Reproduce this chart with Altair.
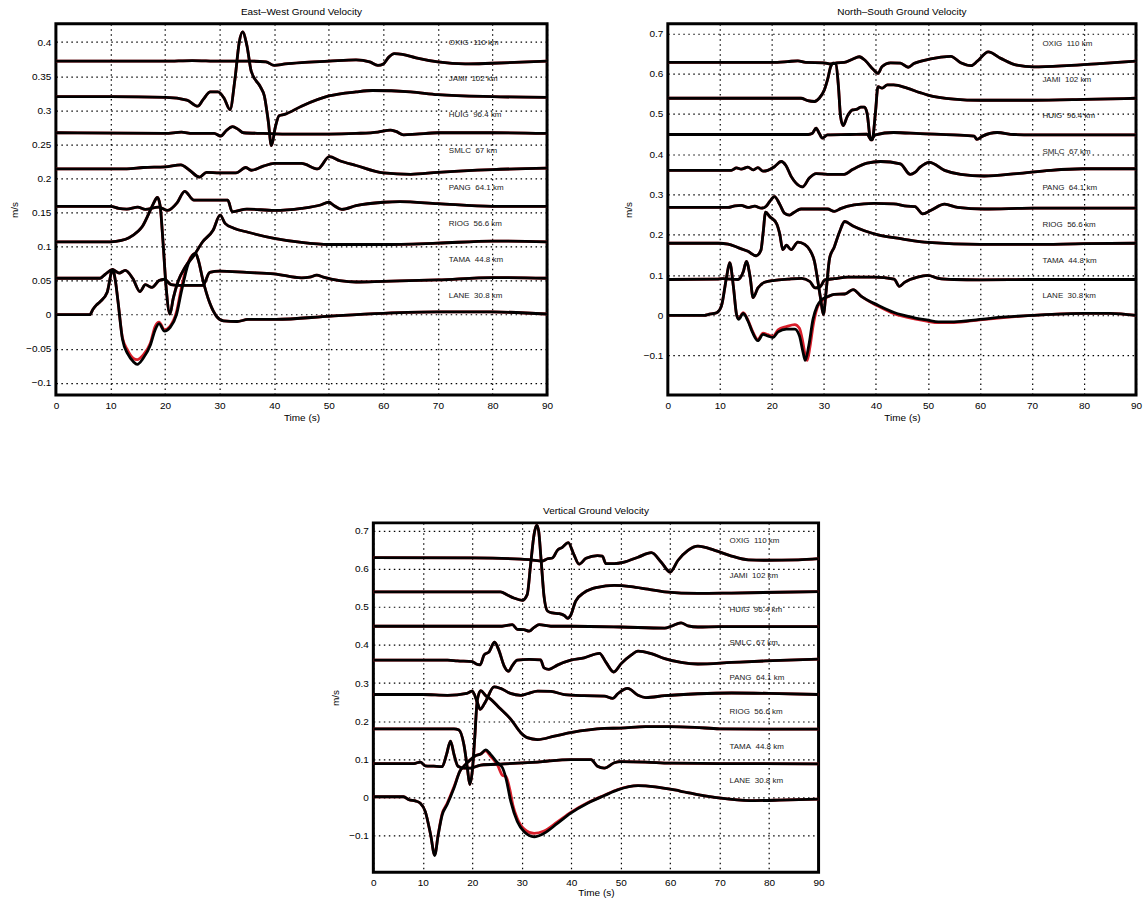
import altair as alt
import pandas as pd

# Station names and epicentral distances, bottom of each stack is LANE
STATIONS = ["OXIG", "JAMI", "HUIG", "SMLC", "PANG", "RIOG", "TAMA", "LANE"]
DISTANCES = ["110 km", "102 km", "96.4 km", "67 km", "64.1 km", "56.6 km", "44.8 km", "30.8 km"]

LABEL_TIME = 72
EW_LABEL_V = [0.3985, 0.3465, 0.2926, 0.240, 0.186, 0.133, 0.0797, 0.0277]
NS_LABEL_V = [0.6746, 0.585, 0.494, 0.405, 0.315, 0.224, 0.134, 0.047]
V_LABEL_V = [0.672, 0.582, 0.4925, 0.4045, 0.314, 0.2245, 0.1334, 0.0436]

TIME_TICKS = [0, 10, 20, 30, 40, 50, 60, 70, 80, 90]
EW_TICKS = [-0.1, -0.05, 0, 0.05, 0.1, 0.15, 0.2, 0.25, 0.3, 0.35, 0.4]
NS_TICKS = [-0.1, 0, 0.1, 0.2, 0.3, 0.4, 0.5, 0.6, 0.7]
V_TICKS = [-0.1, 0, 0.1, 0.2, 0.3, 0.4, 0.5, 0.6, 0.7]

# ---------------- East-West component (time s, offset velocity m/s) ----------------
EW_OXIG = [(0, 0.372), (20, 0.372), (25, 0.373), (30, 0.372), (36, 0.372), (38.5, 0.371), (40, 0.366),
           (42, 0.368), (45, 0.370), (50, 0.372), (55, 0.374), (57.5, 0.371), (59, 0.366), (60, 0.368),
           (61, 0.378), (62, 0.383), (63.5, 0.382), (66, 0.377), (70, 0.371), (75, 0.368), (80, 0.369),
           (90, 0.372)]
EW_JAMI = [(0, 0.320), (10, 0.320), (20.2, 0.319), (24, 0.315), (26, 0.306), (27, 0.316), (28.3, 0.327),
           (29.7, 0.327), (30.8, 0.318), (31.9, 0.301), (32.8, 0.345), (33.6, 0.400), (34.2, 0.415),
           (35, 0.395), (35.8, 0.357), (37.5, 0.334), (38.2, 0.321), (38.9, 0.285), (39.5, 0.248),
           (40.2, 0.275), (40.9, 0.292), (41.9, 0.294), (45, 0.306), (50, 0.321), (55, 0.327),
           (58, 0.329), (65, 0.327), (70, 0.323), (80, 0.320), (90, 0.319)]
EW_HUIG = [(0, 0.267), (20, 0.266), (23, 0.268), (25, 0.266), (29, 0.266), (30.2, 0.262), (31.2, 0.270),
           (32.4, 0.276), (33.4, 0.272), (34.4, 0.267), (38, 0.266), (42, 0.265), (50, 0.265), (55, 0.266),
           (59, 0.268), (61.3, 0.271), (62.3, 0.269), (63.7, 0.264), (66, 0.265), (70, 0.267), (80, 0.267),
           (90, 0.266)]
EW_SMLC = [(0, 0.214), (13, 0.214), (16, 0.216), (20, 0.217), (22.9, 0.220), (24.5, 0.212), (26.3, 0.202),
           (27.6, 0.209), (30, 0.208), (33, 0.208), (34.8, 0.216), (35.8, 0.212), (38, 0.218), (40, 0.222),
           (45, 0.222), (48, 0.214), (50.1, 0.232), (52, 0.226), (55, 0.219), (60, 0.208), (65, 0.206),
           (70, 0.209), (80, 0.213), (90, 0.215)]
EW_PANG = [(0, 0.159), (10, 0.159), (11.5, 0.156), (13, 0.155), (15, 0.158), (16.4, 0.1545), (18.8, 0.158),
           (20.5, 0.153), (22.2, 0.164), (23.6, 0.181), (25.3, 0.168), (28, 0.168), (31.5, 0.168),
           (32.3, 0.151), (35, 0.155), (40, 0.153), (45, 0.156), (48.5, 0.161), (50, 0.165), (51, 0.160),
           (52.4, 0.1545), (55, 0.160), (60, 0.165), (63, 0.166), (70, 0.163), (80, 0.159), (90, 0.159)]
EW_RIOG = [(0, 0.107), (10, 0.107), (12, 0.109), (13.4, 0.113), (15, 0.122), (15.8, 0.129), (17, 0.148),
           (17.8, 0.162), (18.6, 0.172), (19.1, 0.160), (19.6, 0.110), (20.2, 0.040), (20.9, 0.001),
           (21.5, 0.024), (22.4, 0.049), (23.7, 0.070), (25.3, 0.087), (26.9, 0.107), (28.8, 0.124),
           (30.1, 0.146), (31, 0.134), (32.6, 0.127), (35.2, 0.121), (40, 0.112), (45, 0.106), (50, 0.103),
           (60, 0.103), (70, 0.105), (80, 0.108), (90, 0.107)]
EW_TAMA = [(0, 0.0535), (8.1, 0.0535), (9, 0.059), (10.4, 0.066), (11.6, 0.061), (12.7, 0.065),
           (14.1, 0.053), (15.4, 0.034), (16.4, 0.044), (17.6, 0.040), (18.9, 0.050), (19.9, 0.052),
           (21.1, 0.044), (22.4, 0.043), (26.9, 0.043), (28.2, 0.062), (30, 0.064), (35, 0.062), (40, 0.060),
           (45, 0.054), (46.5, 0.055), (47.8, 0.058), (49, 0.055), (52, 0.050), (55, 0.048), (60, 0.049),
           (70, 0.051), (80, 0.0545), (90, 0.0535)]
EW_LANE = [(0, 0.0), (6.2, 0.0), (6.8, 0.008), (7.4, 0.014), (8.1, 0.019), (9.4, 0.033), (10.4, 0.066),
           (10.9, 0.050), (11.4, 0.018), (12.2, -0.036), (13.2, -0.058), (14.2, -0.069), (14.9, -0.073),
           (16, -0.064), (17.3, -0.045), (18.2, -0.022), (18.9, -0.013), (19.9, -0.024), (20.9, -0.019),
           (22.1, 0.0), (23, 0.034), (24.3, 0.076), (25.6, 0.090), (26.1, 0.080), (26.9, 0.052),
           (28.2, 0.017), (29.4, -0.002), (30.7, -0.009), (33.2, -0.010), (35.2, -0.007), (40.3, -0.007),
           (50.4, -0.002), (60, 0.002), (70, 0.004), (80, 0.004), (90, 0.001)]
EW_LANE_OBS = [(0, 0.0), (6.2, 0.0), (6.8, 0.008), (7.4, 0.014), (8.1, 0.019), (9.4, 0.033), (10.4, 0.066),
               (10.9, 0.050), (11.4, 0.018), (12.2, -0.034), (13.2, -0.053), (14.2, -0.064), (14.9, -0.066),
               (16, -0.059), (17.3, -0.042), (18.2, -0.017), (18.9, -0.011), (19.9, -0.022), (20.9, -0.017),
               (22.1, 0.004), (23, 0.040), (24.3, 0.078), (25.6, 0.090), (26.1, 0.080), (26.9, 0.052),
               (28.2, 0.017), (29.4, -0.002), (30.7, -0.009), (33.2, -0.010), (35.2, -0.007), (40.3, -0.007),
               (50.4, -0.002), (60, 0.002), (70, 0.004), (80, 0.004), (90, 0.001)]

# ---------------- North-South component ----------------
NS_OXIG = [(0, 0.628), (20, 0.628), (23, 0.630), (25, 0.632), (26.5, 0.628), (30, 0.627), (31.3, 0.624),
           (32.5, 0.627), (33.9, 0.628), (35.5, 0.636), (36.8, 0.642), (38, 0.632), (39.6, 0.609),
           (40.4, 0.601), (41.2, 0.618), (42.8, 0.627), (44.7, 0.626), (46.2, 0.616), (47.3, 0.625),
           (48.7, 0.631), (52.5, 0.641), (54.4, 0.643), (56.3, 0.627), (58.3, 0.620), (59.5, 0.631),
           (61.6, 0.654), (64, 0.638), (67.1, 0.621), (70.3, 0.617), (76.7, 0.620), (83, 0.625), (90, 0.631)]
NS_JAMI = [(0, 0.539), (25.6, 0.539), (26.9, 0.533), (28.2, 0.531), (29.1, 0.539), (30.1, 0.560),
           (30.7, 0.585), (31.3, 0.617), (31.8, 0.626), (32.3, 0.624), (32.8, 0.568), (33.2, 0.494),
           (33.7, 0.471), (34.5, 0.494), (35.5, 0.510), (36.4, 0.512), (37.1, 0.517), (37.8, 0.517),
           (38.3, 0.502), (39.0, 0.436), (39.3, 0.436), (39.9, 0.502), (40.4, 0.568), (41.2, 0.564),
           (42.2, 0.572), (43.4, 0.572), (46, 0.564), (48.5, 0.553), (50, 0.547), (55, 0.537), (60, 0.534),
           (70, 0.534), (80, 0.536), (90, 0.539)]
NS_HUIG = [(0, 0.449), (27, 0.449), (27.8, 0.452), (28.5, 0.465), (29.1, 0.452), (29.7, 0.440), (30.7, 0.448),
           (35, 0.449), (38.3, 0.450), (39.0, 0.437), (39.9, 0.448), (43.4, 0.454), (48.5, 0.451), (55, 0.448),
           (58.9, 0.445), (59.4, 0.437), (60.5, 0.445), (63.3, 0.454), (66.5, 0.449), (70, 0.448), (90, 0.448)]
NS_SMLC = [(0, 0.360), (12.2, 0.360), (13.2, 0.366), (14.1, 0.363), (15.4, 0.368), (16.4, 0.361),
           (17.3, 0.367), (18.3, 0.358), (19.2, 0.360), (20.5, 0.369), (21.8, 0.382), (22.7, 0.372),
           (23.7, 0.345), (24.6, 0.329), (25.9, 0.319), (27.2, 0.341), (28.5, 0.352), (30.7, 0.350),
           (33.9, 0.350), (35.5, 0.362), (38.3, 0.378), (40.9, 0.382), (44.7, 0.376), (46.6, 0.350),
           (47.5, 0.355), (48.5, 0.368), (50.3, 0.380), (53.2, 0.360), (56.3, 0.350), (60.8, 0.346),
           (67.1, 0.352), (73.5, 0.360), (79.8, 0.364), (90, 0.364)]
NS_PANG = [(0, 0.268), (11.6, 0.268), (12.9, 0.272), (14.1, 0.273), (15.4, 0.268), (16.7, 0.271), (18, 0.266),
           (18.9, 0.271), (19.6, 0.283), (20.5, 0.295), (21.5, 0.276), (22.4, 0.254), (23.4, 0.249),
           (24.3, 0.256), (25.6, 0.264), (30.7, 0.264), (32, 0.258), (33.2, 0.265), (35.8, 0.274),
           (39.6, 0.278), (43.4, 0.277), (46, 0.271), (47.5, 0.270), (49, 0.252), (50.6, 0.261), (53.2, 0.276),
           (55.7, 0.268), (60.8, 0.264), (70.3, 0.266), (90, 0.266)]
NS_RIOG = [(0, 0.179), (9.7, 0.179), (11.6, 0.177), (13.5, 0.168), (15.4, 0.159), (17, 0.148), (17.9, 0.162),
           (18.3, 0.203), (18.8, 0.256), (19.6, 0.245), (20.9, 0.228), (21.5, 0.203), (22.1, 0.163),
           (22.8, 0.174), (23.7, 0.163), (25, 0.182), (26.3, 0.176), (27.3, 0.162), (28.2, 0.133),
           (28.8, 0.088), (29.4, 0.039), (29.9, 0.002), (30.4, 0.056), (31.1, 0.142), (32, 0.170),
           (33, 0.207), (34, 0.233), (35.6, 0.222), (37.8, 0.210), (40.4, 0.200), (45, 0.190), (50, 0.181),
           (60, 0.176), (70, 0.176), (80, 0.178), (90, 0.179)]
NS_TAMA = [(0, 0.089), (9.4, 0.090), (10.6, 0.091), (13.5, 0.089), (14.5, 0.108), (15.1, 0.134), (15.8, 0.097),
           (16.4, 0.044), (17.3, 0.068), (18.6, 0.082), (20.5, 0.087), (23.1, 0.090), (25.7, 0.092),
           (27.3, 0.084), (28.3, 0.068), (29.2, 0.070), (30.2, 0.088), (32, 0.091), (34.6, 0.095),
           (39.7, 0.095), (43.5, 0.090), (44.5, 0.072), (45.5, 0.082), (48, 0.095), (50, 0.099), (52, 0.092),
           (55, 0.089), (60, 0.088), (70, 0.089), (90, 0.089)]
NS_LANE = [(0, 0.0), (7.1, 0.0), (7.7, 0.002), (9.4, 0.0065), (10.3, 0.023), (11.3, 0.096), (11.9, 0.131),
           (12.6, 0.072), (13.2, 0.0025), (13.6, -0.010), (14.5, 0.005), (15.4, -0.014), (16.3, -0.043),
           (17.3, -0.063), (18.3, -0.047), (19.2, -0.051), (20.2, -0.055), (21.2, -0.041), (22.8, -0.034),
           (24.4, -0.034), (25.3, -0.051), (26, -0.092), (26.4, -0.112), (27.1, -0.075), (27.9, -0.010),
           (28.7, 0.023), (29.6, 0.039), (30.8, 0.047), (32, 0.052), (34, 0.053), (35.6, 0.064), (37.2, 0.047),
           (40.4, 0.025), (43.5, 0.007), (47.4, -0.006), (50, -0.012), (52, -0.016), (55, -0.016),
           (60, -0.010), (65, -0.004), (70, 0.0), (80, 0.005), (85, 0.005), (90, 0.0)]
NS_LANE_OBS = [(0, 0.0), (7.1, 0.0), (7.7, 0.002), (9.4, 0.0065), (10.3, 0.023), (11.3, 0.096), (11.9, 0.131),
               (12.6, 0.072), (13.2, 0.0025), (13.6, -0.008), (14.5, 0.007), (15.4, -0.012), (16.3, -0.040),
               (17.3, -0.060), (18.3, -0.044), (19.2, -0.048), (20.2, -0.052), (21.2, -0.036), (22.8, -0.028),
               (24.4, -0.023), (25.3, -0.032), (26, -0.070), (26.4, -0.098), (26.8, -0.112), (27.3, -0.080),
               (28, -0.020), (28.7, 0.018), (29.6, 0.036), (30.8, 0.046), (32, 0.052), (34, 0.053),
               (35.6, 0.064), (37.2, 0.047), (40.4, 0.023), (43.5, 0.004), (47.4, -0.009), (50, -0.015),
               (52, -0.018), (55, -0.018), (60, -0.011), (65, -0.005), (70, 0.0), (80, 0.005), (85, 0.005),
               (90, 0.0)]

# ---------------- Vertical component ----------------
V_OXIG = [(0, 0.629), (20, 0.628), (29.8, 0.625), (31.8, 0.623), (34.2, 0.620), (35.2, 0.626), (36.2, 0.628),
          (37.2, 0.648), (38.2, 0.656), (39.4, 0.668), (40.5, 0.638), (41.6, 0.612), (43, 0.627), (45.3, 0.634),
          (46.3, 0.633), (47, 0.613), (48.7, 0.613), (50.7, 0.617), (53.5, 0.630), (56.2, 0.642), (58.2, 0.617),
          (60, 0.591), (61.6, 0.622), (63.6, 0.648), (65.6, 0.659), (69, 0.648), (72.4, 0.633), (75.8, 0.623),
          (79.2, 0.622), (85.9, 0.623), (90, 0.626)]
V_JAMI = [(0, 0.539), (25.7, 0.539), (27.1, 0.531), (28.4, 0.523), (30.1, 0.517), (31.1, 0.532), (31.8, 0.612),
          (32.5, 0.690), (33.0, 0.714), (33.4, 0.700), (33.9, 0.625), (34.5, 0.528), (35.2, 0.489), (36.2, 0.484),
          (37.6, 0.482), (38.6, 0.477), (39.3, 0.470), (39.9, 0.478), (40.9, 0.515), (42.6, 0.537),
          (45.3, 0.551), (48.7, 0.556), (52.1, 0.553), (55.5, 0.546), (58.9, 0.539), (65.6, 0.535),
          (72.4, 0.536), (90, 0.540)]
V_HUIG = [(0, 0.449), (26, 0.449), (28.1, 0.453), (29.1, 0.441), (30.4, 0.440), (31.5, 0.436), (32.5, 0.446),
          (33.5, 0.453), (35.9, 0.449), (40, 0.449), (50, 0.447), (58.9, 0.444), (60.2, 0.449), (62.2, 0.458),
          (63.6, 0.450), (65.6, 0.447), (70, 0.448), (90, 0.448)]
V_SMLC = [(0, 0.360), (15, 0.360), (17, 0.358), (20, 0.356), (20.8, 0.350), (21.6, 0.348), (22.4, 0.374),
          (23.4, 0.382), (24.5, 0.407), (25.4, 0.385), (26.4, 0.346), (27.3, 0.331), (28.1, 0.346),
          (29.1, 0.360), (31.5, 0.362), (33.8, 0.361), (34.5, 0.340), (35.5, 0.336), (37.2, 0.347),
          (39.9, 0.360), (42.6, 0.366), (45.7, 0.378), (47, 0.355), (48.6, 0.329), (50.1, 0.351),
          (52.1, 0.373), (53.5, 0.384), (56.2, 0.377), (58.9, 0.364), (62.2, 0.354), (65.6, 0.350),
          (72.4, 0.354), (79.2, 0.358), (90, 0.363)]
V_PANG = [(0, 0.270), (10, 0.270), (15, 0.268), (18.9, 0.273), (20, 0.279), (21, 0.250), (21.6, 0.231),
          (22.7, 0.252), (24.4, 0.290), (25.7, 0.286), (27.7, 0.273), (29.8, 0.268), (31.1, 0.272),
          (33.2, 0.279), (35.9, 0.278), (38.6, 0.270), (42.6, 0.267), (46.7, 0.266), (48.4, 0.260),
          (49.4, 0.272), (51.4, 0.286), (53.5, 0.268), (55.1, 0.262), (58.9, 0.267), (65.6, 0.272),
          (72.4, 0.274), (80, 0.273), (90, 0.270)]
V_RIOG = [(0, 0.180), (16.3, 0.180), (17.3, 0.177), (18.3, 0.139), (19, 0.078), (19.5, 0.034), (20, 0.069),
          (20.5, 0.157), (21, 0.254), (21.7, 0.280), (22.7, 0.267), (23.7, 0.258), (25.4, 0.236), (27.8, 0.205),
          (29.8, 0.170), (31.1, 0.157), (33.2, 0.152), (36.6, 0.161), (39.9, 0.170), (46.7, 0.181),
          (50, 0.182), (55, 0.186), (60, 0.186), (65, 0.184), (70, 0.180), (80, 0.179), (90, 0.179)]
V_TAMA = [(0, 0.089), (8.2, 0.089), (9.5, 0.093), (10.5, 0.083), (12.2, 0.082), (13.9, 0.081), (14.8, 0.113),
          (15.6, 0.148), (16.3, 0.113), (17.1, 0.082), (18.3, 0.077), (19.7, 0.077), (21.7, 0.085),
          (26.4, 0.088), (33.2, 0.093), (39.9, 0.0995), (44, 0.0995), (45.3, 0.082), (46.7, 0.077),
          (48.7, 0.091), (50, 0.094), (55, 0.093), (60, 0.090), (70, 0.089), (90, 0.088)]
V_LANE = [(0, 0.002), (6.1, 0.002), (7.2, -0.006), (8.5, -0.009), (9.5, -0.015), (10.5, -0.037), (11.6, -0.099),
          (12.4, -0.152), (13.1, -0.099), (13.9, -0.046), (14.9, -0.019), (16.3, 0.025), (17.5, 0.069),
          (18.6, 0.086), (19.7, 0.100), (20.7, 0.110), (21.7, 0.114), (22.7, 0.125), (23.7, 0.113),
          (25.1, 0.091), (26.1, 0.078), (26.8, 0.051), (27.8, -0.011), (29.1, -0.063), (30.5, -0.090),
          (32.5, -0.103), (34.5, -0.094), (37.2, -0.068), (39.9, -0.041), (43.3, -0.015), (46.7, 0.005),
          (49.4, 0.020), (53.5, 0.031), (57, 0.028), (62, 0.017), (67, 0.004), (72, -0.004), (77, -0.008),
          (82, -0.007), (90, -0.004)]
V_LANE_OBS = [(0, 0.002), (6.1, 0.002), (7.2, -0.006), (8.5, -0.009), (9.5, -0.015), (10.5, -0.037),
              (11.6, -0.099), (12.4, -0.150), (13.1, -0.097), (13.9, -0.043), (14.9, -0.016), (16.3, 0.028),
              (17.5, 0.069), (18.6, 0.086), (19.7, 0.100), (20.7, 0.110), (21.7, 0.114), (22.7, 0.122),
              (23.7, 0.108), (25.1, 0.085), (26.1, 0.058), (26.8, 0.055), (27.6, 0.020), (28.2, -0.020),
              (29.1, -0.055), (30.5, -0.083), (32.5, -0.094), (34.5, -0.088), (37.2, -0.064), (39.9, -0.039),
              (43.3, -0.014), (46.7, 0.006), (49.4, 0.021), (53.5, 0.031), (57, 0.028), (62, 0.017),
              (67, 0.004), (72, -0.004), (77, -0.008), (82, -0.007), (90, -0.004)]

SYN_COLOR = "#000000"
OBS_COLOR = "#d81e2a"
FONT = "Liberation Sans"


def to_frame(traces):
    rows = []
    for name, pts in traces.items():
        for t, v in pts:
            rows.append({"t": t, "v": v, "station": name})
    return pd.DataFrame(rows)


def panel(title, synth, observed, label_v, y_domain, y_ticks, width, height, y_extent, x_title_pad):
    x = alt.X(
        "t:Q",
        scale=alt.Scale(domain=[0, 90], nice=False, zero=False),
        axis=alt.Axis(values=TIME_TICKS, title="Time (s)", labelFlush=False, ticks=False, domain=False,
                      grid=True, gridColor="#000", gridDash=[1.5, 3.5], gridWidth=1.2,
                      labelPadding=5, titlePadding=x_title_pad, labelFontSize=10, titleFontSize=10,
                      titleFontWeight="normal", labelFont=FONT, titleFont=FONT,
                      labelColor="#000", titleColor="#000"),
    )
    y = alt.Y(
        "v:Q",
        scale=alt.Scale(domain=y_domain, nice=False, zero=False),
        axis=alt.Axis(values=y_ticks, title="m/s", format="~g", ticks=False, domain=False,
                      grid=True, gridColor="#000", gridDash=[1.5, 3.5], gridWidth=1.2,
                      labelPadding=5, titlePadding=4, minExtent=y_extent, maxExtent=y_extent,
                      labelFontSize=10, titleFontSize=10, titleFontWeight="normal",
                      labelFont=FONT, titleFont=FONT, labelColor="#000", titleColor="#000",
                      labelOverlap=False),
    )
    obs = alt.Chart(to_frame(observed)).mark_line(
        color=OBS_COLOR, strokeWidth=2.8, interpolate="monotone", clip=True
    ).encode(x=x, y=y, detail="station:N")
    syn = alt.Chart(to_frame(synth)).mark_line(
        color=SYN_COLOR, strokeWidth=2.8, interpolate="monotone", clip=True
    ).encode(x=x, y=y, detail="station:N")
    labels = pd.DataFrame({
        "t": [LABEL_TIME] * len(STATIONS),
        "v": label_v,
        "text": [f"{s}\u00a0 {d}" for s, d in zip(STATIONS, DISTANCES)],
    })
    txt = alt.Chart(labels).mark_text(
        align="left", baseline="middle", fontSize=8, font=FONT, color="#222"
    ).encode(x=x, y=y, text="text:N")
    return alt.layer(obs, syn, txt).properties(
        width=width, height=height,
        title=alt.TitleParams(title, fontSize=10, fontWeight="normal", font=FONT, color="#000",
                              frame="group", anchor="middle", offset=7),
    )


ew_syn = dict(zip(STATIONS, [EW_OXIG, EW_JAMI, EW_HUIG, EW_SMLC, EW_PANG, EW_RIOG, EW_TAMA, EW_LANE]))
ew_obs = dict(ew_syn, LANE=EW_LANE_OBS)
ns_syn = dict(zip(STATIONS, [NS_OXIG, NS_JAMI, NS_HUIG, NS_SMLC, NS_PANG, NS_RIOG, NS_TAMA, NS_LANE]))
ns_obs = dict(ns_syn, LANE=NS_LANE_OBS)
v_syn = dict(zip(STATIONS, [V_OXIG, V_JAMI, V_HUIG, V_SMLC, V_PANG, V_RIOG, V_TAMA, V_LANE]))
v_obs = dict(v_syn, LANE=V_LANE_OBS)

ew = panel("East\u2013West Ground Velocity", ew_syn, ew_obs, EW_LABEL_V, [-0.118, 0.427], EW_TICKS,
           492, 372, 32, 2)
ns = panel("North\u2013South Ground Velocity", ns_syn, ns_obs, NS_LABEL_V, [-0.198, 0.724], NS_TICKS,
           469, 372, 30, 2)
vert = panel("Vertical Ground Velocity", v_syn, v_obs, V_LABEL_V, [-0.196, 0.72], V_TICKS,
             446, 350, 29, 0)

spacer = alt.Chart(pd.DataFrame({"t": [0], "v": [0]})).mark_point(opacity=0).encode(
    x=alt.X("t:Q", axis=None), y=alt.Y("v:Q", axis=None)
).properties(width=273, height=20, view=alt.ViewBackground(strokeOpacity=0))

top = alt.hconcat(ew, ns, spacing=67).resolve_scale(x="independent", y="independent")
bottom = alt.hconcat(spacer, vert, spacing=0).resolve_scale(x="independent", y="independent")

chart = alt.vconcat(top, bottom, spacing=80).resolve_scale(
    x="independent", y="independent"
).properties(
    padding={"left": 8, "top": 4, "right": 0, "bottom": 0}
).configure_view(
    stroke="#000", strokeWidth=3
)

chart.save("out.html", embed_options={"renderer": "svg", "actions": False})
